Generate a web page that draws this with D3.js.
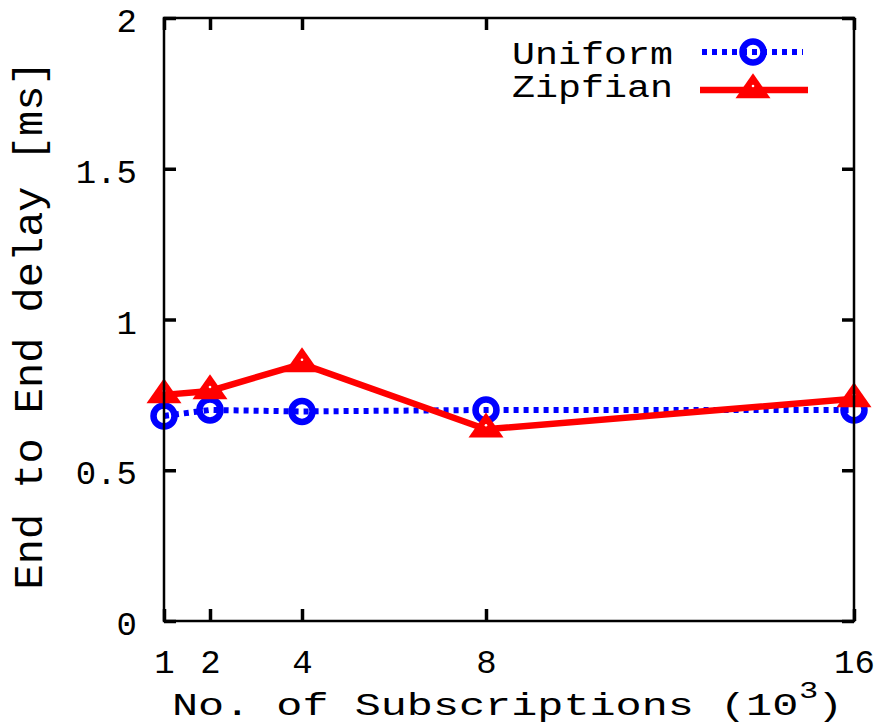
<!DOCTYPE html>
<html>
<head>
<meta charset="utf-8">
<script src="https://cdn.jsdelivr.net/npm/d3@7"></script>
<style>
  html, body { margin: 0; padding: 0; background: #fff; }
  svg { display: block; }
</style>
</head>
<body>
<svg id="chart" width="881" height="728"></svg>
<script>
// Subscriptions (thousands) on the x axis
const subscriptions = [1, 2, 4, 8, 16];
// End-to-end delay in ms for each distribution
const uniformDelay = [0.68, 0.70, 0.695, 0.70, 0.70];
const zipfianDelay = [0.75, 0.763, 0.853, 0.636, 0.737];
// Axis ticks
const xTicks = [1, 2, 4, 8, 16];
const yTicks = [0, 0.5, 1, 1.5, 2];
const seriesNames = ["Uniform", "Zipfian"];

const svg = d3.select("#chart");
const FONT = "'Liberation Mono', 'DejaVu Sans Mono', monospace";
const BLUE = "#0000ff", RED = "#ff0000";

const plot = { left: 164, right: 854, top: 18, bottom: 621 };
const x = d3.scaleLinear().domain([1, 16]).range([plot.left, plot.right]);
const y = d3.scaleLinear().domain([0, 2]).range([plot.bottom, plot.top]);

// Monospace text with a given character pitch and cap height
function monoText(parent, str, tx, ty, pitch, cap, rotate) {
  const fs = pitch / 0.6;
  const sy = cap / (0.66 * fs);
  const g = parent.append("g")
    .attr("transform", `translate(${tx},${ty})` + (rotate ? ` rotate(${rotate})` : "") + ` scale(1,${sy})`);
  const t = g.append("text")
    .attr("font-family", FONT)
    .attr("font-size", fs)
    .attr("fill", "#000")
    .text(str);
  return { g, t, fs, sy };
}

// Axes: inward ticks on all four sides
function styleAxis(g) {
  g.select(".domain").remove();
  g.selectAll(".tick line").attr("stroke", "#000").attr("stroke-width", 3.5);
  g.selectAll(".tick text").attr("font-family", FONT).attr("font-size", 34).attr("fill", "#000");
}
svg.append("g").attr("transform", `translate(${plot.left},0)`)
  .call(d3.axisLeft(y).tickValues(yTicks).tickFormat(d3.format("")).tickSizeInner(-12).tickSizeOuter(0).tickPadding(27))
  .call(styleAxis)
  .call(g => g.selectAll(".tick text").attr("dy", "0.4em"));
svg.append("g").attr("transform", `translate(${plot.right},0)`)
  .call(d3.axisRight(y).tickValues(yTicks).tickFormat("").tickSizeInner(-12).tickSizeOuter(0))
  .call(styleAxis);
svg.append("g").attr("transform", `translate(0,${plot.bottom})`)
  .call(d3.axisBottom(x).tickValues(xTicks).tickFormat(d3.format("d")).tickSizeInner(-12).tickSizeOuter(0).tickPadding(28))
  .call(styleAxis);
svg.append("g").attr("transform", `translate(0,${plot.top})`)
  .call(d3.axisTop(x).tickValues(xTicks).tickFormat("").tickSizeInner(-12).tickSizeOuter(0))
  .call(styleAxis);

// Series
const pts = (vals) => subscriptions.map((s, i) => [x(s), y(vals[i])]);
const line = d3.line();

svg.append("path").attr("d", line(pts(uniformDelay)))
  .attr("fill", "none").attr("stroke", BLUE).attr("stroke-width", 6)
  .attr("stroke-dasharray", "5,5");
function circleMarker(g, cx, cy) {
  g.append("circle").attr("cx", cx).attr("cy", cy).attr("r", 10.5)
    .attr("fill", "none").attr("stroke", BLUE).attr("stroke-width", 6.5);
}
pts(uniformDelay).forEach(p => circleMarker(svg, p[0], p[1]));

svg.append("path").attr("d", line(pts(zipfianDelay)))
  .attr("fill", "none").attr("stroke", RED).attr("stroke-width", 6.5)
  .attr("stroke-linejoin", "miter");
function triangleMarker(g, cx, cy) {
  const h = 25, w = 17.5;
  g.append("path")
    .attr("d", `M${cx},${cy - 2 * h / 3}L${cx + w},${cy + h / 3}L${cx - w},${cy + h / 3}Z`)
    .attr("fill", RED);
  g.append("circle").attr("cx", cx).attr("cy", cy - 4).attr("r", 1.3).attr("fill", "#fff");
}
pts(zipfianDelay).forEach(p => triangleMarker(svg, p[0], p[1]));

// Legend
monoText(svg, seriesNames[0], 512, 64, 23, 21);
monoText(svg, seriesNames[1], 512, 97, 23, 21);
svg.append("line").attr("x1", 702).attr("x2", 803).attr("y1", 52).attr("y2", 52)
  .attr("stroke", BLUE).attr("stroke-width", 6).attr("stroke-dasharray", "5,5");
circleMarker(svg, 753, 52);
svg.append("line").attr("x1", 700).attr("x2", 808).attr("y1", 90).attr("y2", 90)
  .attr("stroke", RED).attr("stroke-width", 6.5);
triangleMarker(svg, 753, 90);

// Frame
svg.append("rect")
  .attr("x", plot.left).attr("y", plot.top)
  .attr("width", plot.right - plot.left).attr("height", plot.bottom - plot.top)
  .attr("fill", "none").attr("stroke", "#000").attr("stroke-width", 2.5);

// X axis title with superscript exponent
const xl = monoText(svg, "No. of Subscriptions (10", 172, 715, 26.1, 21);
xl.t.append("tspan").attr("x", 627).attr("dy", -17 / xl.sy)
  .attr("font-size", 15.5 / (0.66 * xl.sy)).text("3");
xl.t.append("tspan").attr("x", 645).attr("dy", 17 / xl.sy).text(")");

// Y axis title
const yl = monoText(svg, "End to End delay [ms]", 42, 325, 25.2, 27, -90);
yl.t.attr("text-anchor", "middle");
</script>
</body>
</html>
